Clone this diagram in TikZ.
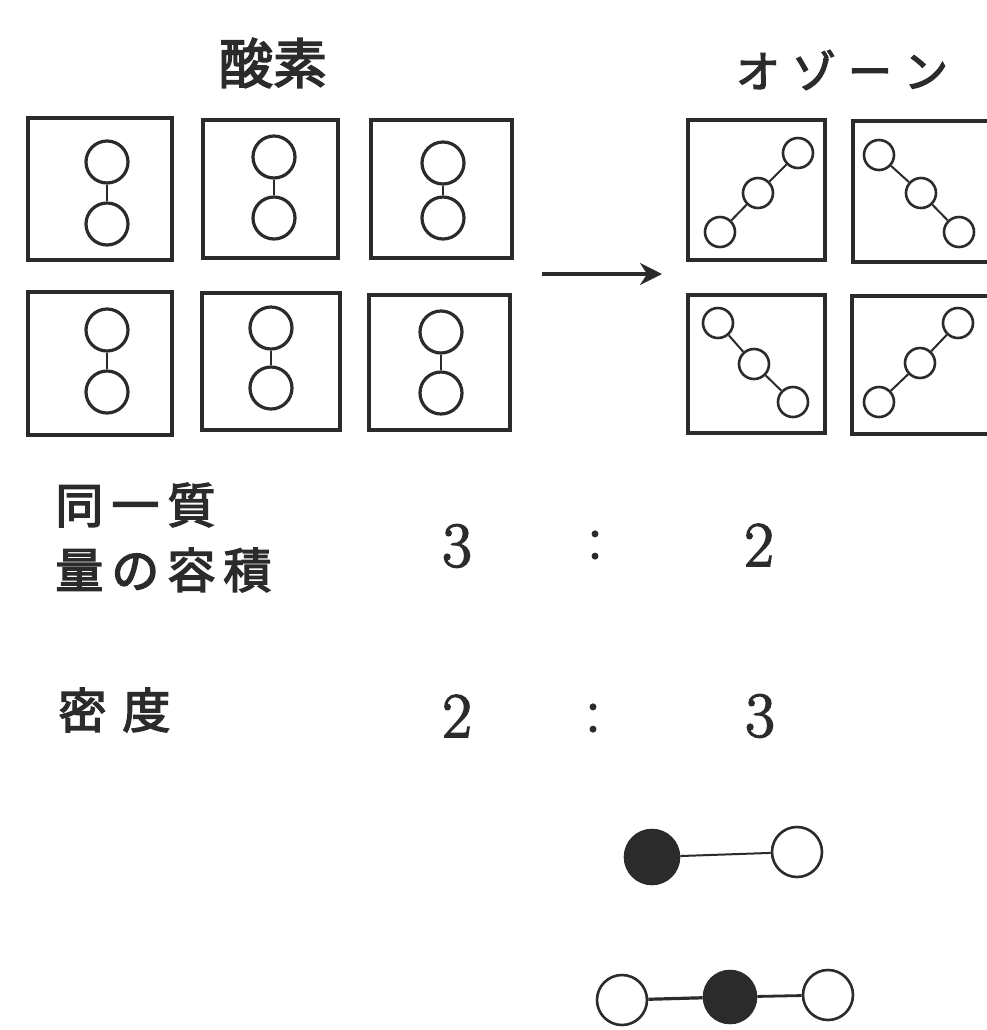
\documentclass[tikz,border=0pt]{standalone}
\usepackage{fontspec}
\newfontfamily\cjk[FakeBold=3]{Noto Sans CJK JP}
\newfontfamily\numfont[FakeBold=2.5]{Latin Modern Roman}
\usetikzlibrary{arrows.meta}
\definecolor{ink}{HTML}{2B2B2B}
\newcommand{\gap}{\hspace{4pt}}
\begin{document}
\begin{tikzpicture}[x=0.5pt,y=-0.5pt,
  every node/.style={text=ink},
  obox/.style={draw=ink, line width=1.6pt, inner sep=0pt},
  oatom/.style={circle, draw=ink, line width=1.6pt, minimum size=21pt, inner sep=0pt},
  zatom/.style={circle, draw=ink, line width=1.3pt, minimum size=15pt, inner sep=0pt},
  watom/.style={circle, draw=ink, line width=1.3pt, minimum size=25pt, inner sep=0pt},
  catom/.style={circle, draw=ink, fill=ink, line width=1.3pt, minimum size=26pt, inner sep=0pt},
  bond/.style={draw=ink, line width=1pt},
  title/.style={font=\cjk\fontsize{27}{27}\selectfont, inner sep=0pt},
  label/.style={font=\cjk\fontsize{24}{32.5}\selectfont, anchor=west, align=left, inner sep=0pt},
  num/.style={font=\numfont\fontsize{32}{32}\selectfont, inner sep=0pt}
]
\fill[white] (0,0) rectangle (987,1030);
\useasboundingbox (0,0) rectangle (987,1030);

% ---- oxygen: six O2 cells ----
\node[title] (oxy) at (273,63) {酸素};
\node[obox, line width=2.3pt, minimum width=72pt, minimum height=71pt] (b1) at (100,189) {};
\node[obox, minimum width=67.5pt, minimum height=69pt] (b2) at (270.5,189) {};
\node[obox, minimum width=70.5pt, minimum height=69pt] (b3) at (441.5,189) {};
\node[obox, line width=2pt, minimum width=72pt, minimum height=71.5pt] (b4) at (100,363.5) {};
\node[obox, minimum width=69pt, minimum height=68.5pt] (b5) at (271,361.5) {};
\node[obox, minimum width=70.5pt, minimum height=67.5pt] (b6) at (439.5,362.5) {};

\node[oatom] (o1a) at (107,162) {};  \node[oatom] (o1b) at (107,224) {};
\node[oatom] (o2a) at (274,157) {};  \node[oatom] (o2b) at (274,218) {};
\node[oatom] (o3a) at (443,163) {};  \node[oatom] (o3b) at (443,218) {};
\node[oatom] (o4a) at (107,330) {};  \node[oatom] (o4b) at (107,392) {};
\node[oatom] (o5a) at (271,328) {};  \node[oatom] (o5b) at (271,388) {};
\node[oatom] (o6a) at (441,332) {};  \node[oatom] (o6b) at (441,393) {};
\foreach \i in {1,...,6} \draw[bond, line width=1.3pt] (o\i a) -- (o\i b);

% ---- arrow ----
\coordinate (a0) at (542,274);
\coordinate (a1) at (662,274);
\draw[draw=ink, line width=2pt, -{Stealth[length=11pt,width=11pt,fill=ink]}] (a0) -- (a1);

% ---- ozone: four O3 cells ----
\node[font=\cjk\fontsize{22}{22}\selectfont, inner sep=0pt] (ozo) at (842,70)
  {オ\hspace{6pt}ゾ\hspace{6pt}ー\hspace{6pt}ン};
\node[obox, minimum width=68.5pt, minimum height=70pt] (z1) at (756.5,190) {};
\node[obox, minimum width=71pt, minimum height=70.5pt] (z2) at (924,191.5) {};
\node[obox, minimum width=68.5pt, minimum height=69pt] (z3) at (756.5,364) {};
\node[obox, minimum width=71.5pt, minimum height=69pt] (z4) at (923.5,365) {};

\node[zatom] (p1a) at (720,232) {}; \node[zatom] (p1b) at (758,193) {}; \node[zatom] (p1c) at (798,153) {};
\node[zatom] (p2a) at (879,155) {}; \node[zatom] (p2b) at (921,193) {}; \node[zatom] (p2c) at (959,232) {};
\node[zatom] (p3a) at (718,323) {}; \node[zatom] (p3b) at (754,364) {}; \node[zatom] (p3c) at (793,402) {};
\node[zatom] (p4a) at (879,402) {}; \node[zatom] (p4b) at (920,363) {}; \node[zatom] (p4c) at (958,323) {};
\foreach \i in {1,...,4} {\draw[bond] (p\i a) -- (p\i b); \draw[bond] (p\i b) -- (p\i c);}

% ---- ratios ----
\node[label] (vol) at (55,537.5) {同\gap 一\gap 質\\量\gap の\gap 容\gap 積};
\node[num] (v1) at (457,546) {3};
\node[num] (v2) at (595,545) {:};
\node[num] (v3) at (759,545) {2};

\node[label] (den) at (58,710) {密\hspace{8pt}度};
\node[num] (d1) at (457,716) {2};
\node[num] (d2) at (593,718) {:};
\node[num] (d3) at (760,716) {3};

% ---- CO and CO2 models ----
\node[catom, minimum size=27pt] (c1) at (652,857) {};
\node[watom] (w1) at (797,852) {};
\draw[bond] (c1) -- (w1);

\node[watom] (w2) at (622,1000) {};
\node[catom] (c2) at (730,997) {};
\node[watom] (w3) at (828,995) {};
\draw[bond, line width=1.6pt] (w2) -- (c2);
\draw[bond, line width=1.4pt] (c2) -- (w3);
\end{tikzpicture}
\end{document}
